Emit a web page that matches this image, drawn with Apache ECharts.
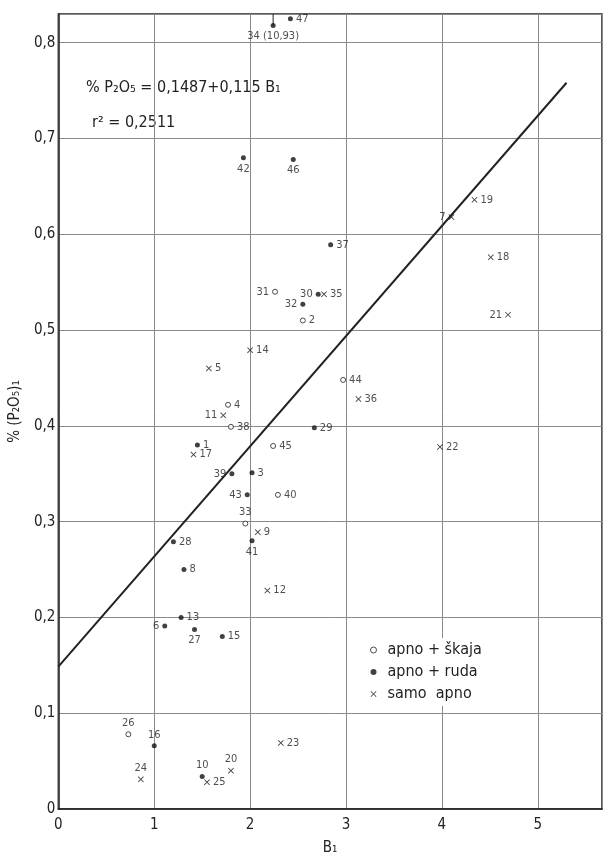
<!DOCTYPE html>
<html>
<head>
<meta charset="utf-8">
<script src="https://cdn.jsdelivr.net/npm/echarts@6/dist/echarts.min.js"></script>
<style>
  html, body { margin: 0; padding: 0; background: #fff; }
  #chart { width: 608px; height: 861px; }
</style>
</head>
<body>
<div id="chart"></div>
<script>
// apno + škaja (open circles)
const skajaIds = [2, 4, 26, 31, 33, 38, 40, 44, 45];
const skajaX = [2.55, 1.77, 0.73, 2.26, 1.95, 1.80, 2.29, 2.97, 2.24];
const skajaY = [0.510, 0.422, 0.078, 0.540, 0.298, 0.399, 0.328, 0.448, 0.379];

// apno + ruda (filled dots)
const rudaIds = [1, 3, 6, 8, 10, 13, 15, 16, 27, 28, 29, 30, 32, 34, 37, 39, 41, 42, 43, 46, 47];
const rudaX = [1.45, 2.02, 1.11, 1.31, 1.50, 1.28, 1.71, 1.00, 1.42, 1.20, 2.67, 2.71, 2.55, 2.24, 2.84, 1.81, 2.02, 1.93, 1.97, 2.45, 2.42];
const rudaY = [0.380, 0.351, 0.191, 0.250, 0.034, 0.200, 0.180, 0.066, 0.1875, 0.279, 0.398, 0.5375, 0.527, 0.818, 0.589, 0.350, 0.280, 0.680, 0.328, 0.678, 0.825];

// samo apno (crosses)
const samoIds = [5, 7, 9, 11, 12, 14, 17, 18, 19, 20, 21, 22, 23, 24, 25, 35, 36];
const samoX = [1.57, 4.10, 2.08, 1.72, 2.18, 2.00, 1.41, 4.51, 4.34, 1.80, 4.69, 3.98, 2.32, 0.86, 1.55, 2.77, 3.13];
const samoY = [0.460, 0.618, 0.289, 0.411, 0.228, 0.479, 0.370, 0.576, 0.636, 0.040, 0.516, 0.378, 0.069, 0.031, 0.028, 0.5375, 0.428];

// point 34 lies off the scale, its real value
const offScale = { 34: '(10,93)' };

// regression  %P2O5 = a + b * B1
const regA = 0.1487;
const regB = 0.115;
const regXEnd = 5.3;

const xTicks = [0, 1, 2, 3, 4, 5];
const yTicks = [0, 0.1, 0.2, 0.3, 0.4, 0.5, 0.6, 0.7, 0.8];

// where each number sits next to its point (default right)
const labelSide = {
  31: 'left', 33: 'top', 26: 'top',
  34: 'bottom', 42: 'bottom', 46: 'bottom', 30: 'left', 32: 'left', 39: 'left', 43: 'left',
  41: 'bottom', 6: 'left', 27: 'bottom', 16: 'top', 10: 'top',
  7: 'left', 21: 'left', 11: 'left', 24: 'top', 20: 'top'
};

const font = '"DejaVu Sans Condensed", "DejaVu Sans", sans-serif';

const buildPoints = (ids, xs, ys) => ids.map((id, i) => ({
  name: String(id),
  value: [xs[i], ys[i]],
  label: { position: labelSide[id] || 'right' }
}));

const crossPath = 'path://M0,1L1,0L5,4L9,0L10,1L6,5L10,9L9,10L5,6L1,10L0,9L4,5Z';

const pointLabel = {
  show: true,
  fontFamily: font,
  fontSize: 11,
  color: '#222',
  distance: 3,
  formatter: (p) => offScale[p.name] ? p.name + ' ' + offScale[p.name] : p.name
};

const chart = echarts.init(document.getElementById('chart'));

const option = {
  backgroundColor: '#fff',
  animation: false,
  grid: {
    left: 54, right: 6, top: 14, bottom: 49,
    show: true, borderColor: '#222', borderWidth: 1.5
  },
  legend: {
    orient: 'vertical',
    left: 364, top: 638,
    backgroundColor: '#fff',
    padding: [4, 6, 4, 6],
    itemGap: 6,
    itemWidth: 6, itemHeight: 6,
    textStyle: { fontFamily: font, fontSize: 16, color: '#222', padding: [0, 0, 0, 6] },
    data: [
      { name: 'apno + škaja', icon: 'circle', itemStyle: { color: '#fff', borderColor: '#222', borderWidth: 1 } },
      { name: 'apno + ruda', icon: 'circle' },
      { name: 'samo  apno', icon: crossPath }
    ]
  },
  xAxis: {
    type: 'value',
    min: 0, max: 5.67, interval: 1,
    name: 'B₁',
    nameLocation: 'middle',
    nameGap: 32,
    nameTextStyle: { fontFamily: font, fontSize: 15, color: '#222' },
    axisLine: { lineStyle: { color: '#222', width: 1.5 } },
    axisTick: { show: false },
    axisLabel: {
      fontFamily: font, fontSize: 15, color: '#222', margin: 9,
      formatter: (v) => xTicks.includes(v) ? String(v) : ''
    },
    splitLine: { lineStyle: { color: '#8a8a8a', width: 1 } }
  },
  yAxis: {
    type: 'value',
    min: 0, max: 0.83, interval: 0.1,
    name: '% (P₂O₅)₁',
    nameLocation: 'middle',
    nameGap: 26,
    nameTextStyle: { fontFamily: font, fontSize: 15, color: '#222' },
    axisLine: { lineStyle: { color: '#222', width: 1.5 } },
    axisTick: { show: false },
    axisLabel: {
      fontFamily: font, fontSize: 15, color: '#222', margin: 3,
      formatter: (v) => {
        const t = yTicks.find((k) => Math.abs(k - v) < 1e-6);
        if (t === undefined) return '';
        return t === 0 ? '0' : t.toFixed(1).replace('.', ',');
      }
    },
    splitLine: { lineStyle: { color: '#8a8a8a', width: 1 } }
  },
  graphic: [
    {
      type: 'text', left: 86, top: 80,
      style: { text: '% P₂O₅ = 0,1487+0,115 B₁', font: '16px ' + font, fill: '#222' }
    },
    {
      type: 'text', left: 92, top: 115,
      style: { text: 'r² = 0,2511', font: '16px ' + font, fill: '#222' }
    }
  ],
  series: [
    {
      name: 'regresija',
      type: 'line',
      data: [[0, regA], [regXEnd, regA + regB * regXEnd]],
      showSymbol: false,
      lineStyle: { color: '#222', width: 2 },
      silent: true,
      z: 1
    },
    {
      name: 'arrow34',
      type: 'line',
      data: [[rudaX[rudaIds.indexOf(34)], rudaY[rudaIds.indexOf(34)]], [rudaX[rudaIds.indexOf(34)], 0.83]],
      showSymbol: false,
      lineStyle: { color: '#222', width: 1 },
      silent: true
    },
    {
      name: 'apno + škaja',
      type: 'scatter',
      symbol: 'circle',
      symbolSize: 5,
      itemStyle: { color: '#fff', borderColor: '#222', borderWidth: 1 },
      label: pointLabel,
      data: buildPoints(skajaIds, skajaX, skajaY),
      z: 3
    },
    {
      name: 'apno + ruda',
      type: 'scatter',
      symbol: 'circle',
      symbolSize: 5,
      itemStyle: { color: '#111' },
      label: pointLabel,
      data: buildPoints(rudaIds, rudaX, rudaY),
      z: 3
    },
    {
      name: 'samo  apno',
      type: 'scatter',
      symbol: crossPath,
      symbolSize: 6,
      itemStyle: { color: '#111' },
      label: pointLabel,
      data: buildPoints(samoIds, samoX, samoY),
      z: 3
    }
  ]
};

chart.setOption(option);
</script>
</body>
</html>
